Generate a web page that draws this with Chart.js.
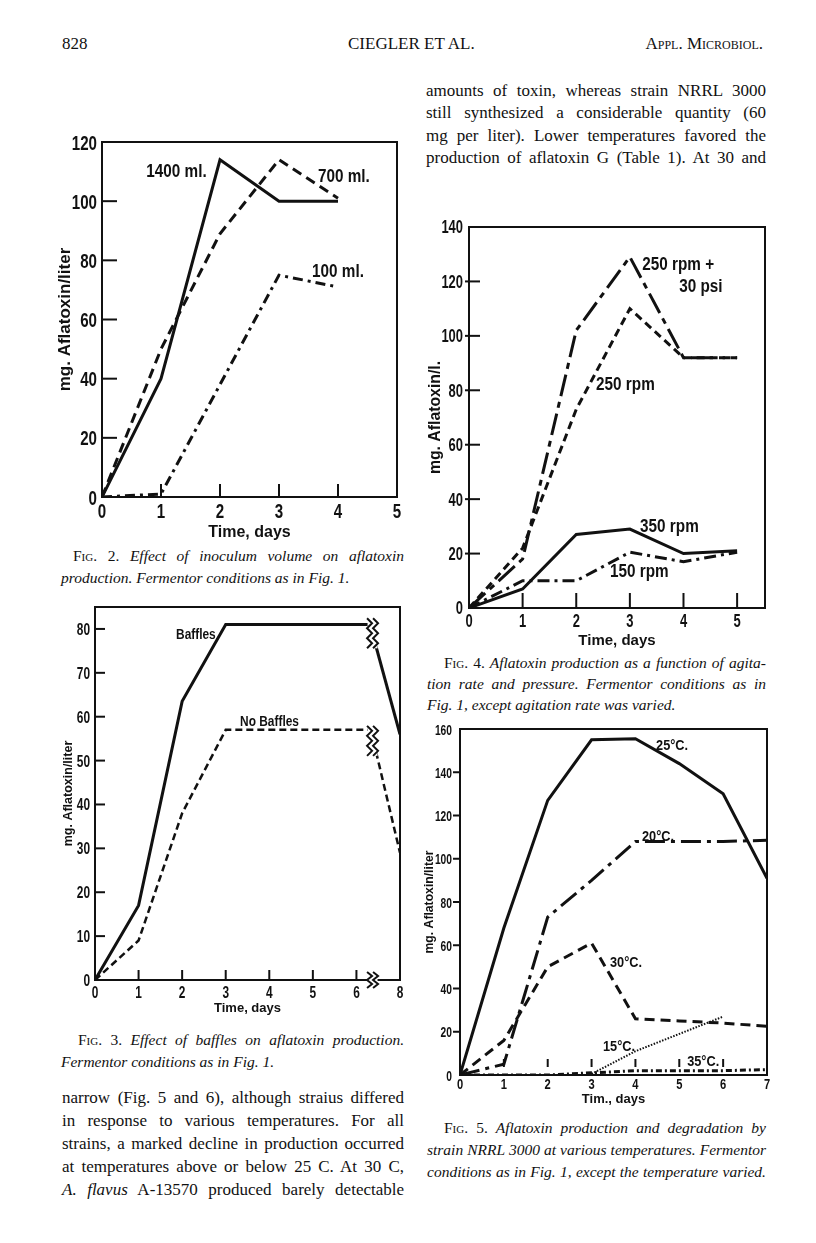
<!DOCTYPE html>
<html>
<head>
<meta charset="utf-8">
<script src="https://cdn.jsdelivr.net/npm/chart.js@4.4.1/dist/chart.umd.min.js"></script>
<style>
    body { margin: 0; background: #fff; width: 816px; height: 1243px; position: relative; overflow: hidden; }
    canvas { position: absolute; }
    .t { position: absolute; font-family: "Liberation Serif", "Times New Roman", serif; color: #111; white-space: nowrap; line-height: 20px; height: 20px; }
    .body { font-size: 17px; }
    .cap { font-size: 15.5px; font-style: italic; }
    .up { font-style: normal; }
    .sc { font-style: normal; font-variant: small-caps; }
</style>
</head>
<body>

<div class="t body" style="left:62px;top:34px">828</div>
<div class="t body" style="left:348px;top:34px">CIEGLER ET AL.</div>
<div class="t body" style="left:560px;top:34px;width:203px;text-align:right"><span class="sc">Appl. Microbiol.</span></div>

<div class="t body j" data-w="340" style="left:426px;top:81px">amounts of toxin, whereas strain NRRL 3000</div>
<div class="t body j" data-w="340" style="left:426px;top:103px">still synthesized a considerable quantity (60</div>
<div class="t body j" data-w="340" style="left:426px;top:126px">mg per liter). Lower temperatures favored the</div>
<div class="t body j" data-w="340" style="left:426px;top:148px">production of aflatoxin G (Table 1). At 30 and</div>

<div class="t cap j" data-w="331" style="left:73px;top:546px"><span class="sc">Fig.</span> <span class="up">2.</span> Effect of inoculum volume on aflatoxin</div>
<div class="t cap" style="left:61px;top:568px">production. Fermentor conditions as in Fig. 1.</div>

<div class="t cap j" data-w="322" style="left:444px;top:653px"><span class="sc">Fig.</span> <span class="up">4.</span> Aflatoxin production as a function of agita-</div>
<div class="t cap j" data-w="339" style="left:427px;top:674px">tion rate and pressure. Fermentor conditions as in</div>
<div class="t cap" style="left:427px;top:695px">Fig. 1, except agitation rate was varied.</div>

<div class="t cap j" data-w="326" style="left:78px;top:1030px"><span class="sc">Fig.</span> <span class="up">3.</span> Effect of baffles on aflatoxin production.</div>
<div class="t cap" style="left:61px;top:1052px">Fermentor conditions as in Fig. 1.</div>

<div class="t body j" data-w="342" style="left:62px;top:1088px">narrow (Fig. 5 and 6), although straius differed</div>
<div class="t body j" data-w="342" style="left:62px;top:1111px">in response to various temperatures. For all</div>
<div class="t body j" data-w="342" style="left:62px;top:1134px">strains, a marked decline in production occurred</div>
<div class="t body j" data-w="342" style="left:62px;top:1157px">at temperatures above or below 25 C. At 30 C,</div>
<div class="t body j" data-w="342" style="left:62px;top:1180px"><i>A. flavus</i> A-13570 produced barely detectable</div>

<div class="t cap j" data-w="322" style="left:444px;top:1118px"><span class="sc">Fig.</span> <span class="up">5.</span> Aflatoxin production and degradation by</div>
<div class="t cap j" data-w="339" style="left:427px;top:1140px">strain NRRL 3000 at various temperatures. Fermentor</div>
<div class="t cap j" data-w="339" style="left:427px;top:1162px">conditions as in Fig. 1, except the temperature varied.</div>

<canvas id="fig2"></canvas>
<canvas id="fig3"></canvas>
<canvas id="fig4"></canvas>
<canvas id="fig5"></canvas>

<script>
// Fig. 2 - inoculum volume
const fig2Days = [0, 1, 2, 3, 4]
const fig2Ml1400 = [0, 40, 114, 100, 100]
const fig2Ml700 = [0, 50, 89, 114, 101]
const fig2Ml100 = [0, 1, 38, 75, 71]

// Fig. 3 - baffles. x is the position on the broken axis (the last tick reads 8)
const fig3Pos = [0, 1, 2, 3, 6.3, 6.45, 7]
const fig3Baffles = [0, 17, 63.5, 81, 81, 76, 56]
const fig3NoBaffles = [0, 9, 38, 57, 57, 52, 29]
const fig3TickLabels = ['0', '1', '2', '3', '4', '5', '6', '8']
const fig3Break = 6.37

// Fig. 4 - agitation rate
const fig4Days = [0, 1, 2, 3, 4, 5]
const fig4Rpm250Psi = [0, 18, 102, 129, 92, 92]
const fig4Rpm250 = [0, 22, 73, 110, 92, 92]
const fig4Rpm350 = [0, 7, 27, 29, 20, 21]
const fig4Rpm150 = [0, 10, 10, 20.5, 17, 20.5]

// Fig. 5 - temperature
const fig5Days = [0, 1, 2, 3, 4, 5, 6, 7]
const fig5C25 = [0, 68, 127, 155, 155.5, 144, 130, 91]
const fig5C20 = [0, 5, 73, 90, 108, 108, 108, 108.5]
const fig5C30 = [0, 16, 50, 61, 26, 25, 24, 22.5]
const fig5C15 = [null, null, null, 0.5, 11, 19, 27, null]
const fig5C35 = [0, 0, 0, 1, 2, 2, 2, 2.5]

const ink = '#111'
const sans = '"Liberation Sans", Arial, sans-serif'

Chart.defaults.font.family = sans
Chart.defaults.font.weight = 'bold'
Chart.defaults.color = ink
Chart.defaults.animation = false

// justify the text lines of the page to their column width
document.querySelectorAll('.j').forEach(el => {
    let span = document.createElement('span')
    while (el.firstChild) span.appendChild(el.firstChild)
    el.appendChild(span)
    let natural = span.getBoundingClientRect().width
    let gaps = (span.textContent.match(/ /g) || []).length
    if (gaps) el.style.wordSpacing = ((+el.dataset.w - natural) / gaps) + 'px'
})

function points(xs, ys) {
    return xs.map((x, i) => ({ x: x, y: ys[i] }))
}

function lineSet(label, xs, ys, dash, width) {
    return {
        label: label,
        data: points(xs, ys),
        borderColor: ink,
        borderWidth: width || 3,
        borderDash: dash || [],
        borderCapStyle: 'butt',
        pointRadius: 0,
        tension: 0,
        fill: false,
        spanGaps: false
    }
}

// condensed bold text: the printed lettering is much narrower than any installed face
function narrowText(ctx, text, x, y, size, sx, align, base) {
    ctx.save()
    ctx.font = 'bold ' + size + 'px ' + sans
    ctx.textAlign = align
    ctx.textBaseline = base || 'alphabetic'
    ctx.translate(x, y)
    ctx.scale(sx, 1)
    ctx.fillText(text, 0, 0)
    ctx.restore()
}

function zigzag(ctx, x, yc, h) {
    let n = Math.max(4, Math.round(h / 5))
    ctx.fillStyle = '#fff'
    ctx.fillRect(x - 5, yc - h / 2, 10, h)
    ctx.lineWidth = 2
    ;[-3, 3].forEach(dx => {
        ctx.beginPath()
        for (let i = 0; i <= n; i++) {
            let y = yc - h / 2 + i * h / n
            let xx = x + dx + (i % 2 ? 2.5 : -2.5)
            if (i === 0) ctx.moveTo(xx, y)
            else ctx.lineTo(xx, y)
        }
        ctx.stroke()
    })
}

// frame, inner ticks, tick labels, text notes and axis breaks, like the printed figures
const paper = {
    id: 'paper',
    afterDatasetsDraw(chart, args, opts) {
        let ctx = chart.ctx
        let a = chart.chartArea
        let xs = chart.scales.x
        let ys = chart.scales.y
        ctx.save()
        ctx.strokeStyle = ink
        ctx.fillStyle = ink
        ctx.lineWidth = 2
        ctx.strokeRect(a.left, a.top, a.right - a.left, a.bottom - a.top)

        xs.ticks.forEach(t => {
            let px = xs.getPixelForValue(t.value)
            let label = opts.xLabels ? opts.xLabels[t.value] : String(t.value)
            narrowText(ctx, label, px, a.bottom + opts.xBase, opts.tickSize, 0.72, 'center')
            if (t.value <= xs.min || t.value >= xs.max) return
            ctx.beginPath()
            ctx.moveTo(px, a.bottom - opts.xTick[0])
            ctx.lineTo(px, a.bottom - opts.xTick[1])
            ctx.stroke()
        })
        ys.ticks.forEach(t => {
            let py = ys.getPixelForValue(t.value)
            narrowText(ctx, String(t.value), a.left - opts.yPad, py + opts.tickSize * 0.36,
                opts.tickSize, opts.ySx || 0.72, 'right')
            if (t.value <= ys.min || t.value >= ys.max) return
            ctx.beginPath()
            ctx.moveTo(a.left + opts.yTick[0], py)
            ctx.lineTo(a.left + opts.yTick[1], py)
            ctx.stroke()
        })

        ;(opts.breaks || []).forEach(b => {
            zigzag(ctx, xs.getPixelForValue(b[0]), ys.getPixelForValue(b[1]), b[2])
            ctx.strokeStyle = ink
        })

        ctx.fillStyle = ink
        ;(opts.notes || []).forEach(n => {
            narrowText(ctx, n[0], xs.getPixelForValue(n[1]), ys.getPixelForValue(n[2]),
                opts.noteSize, 0.85, 'left', 'middle')
        })
        ctx.restore()
    }
}

function makeChart(id, f, datasets, xOpt, yOpt, paperOpts) {
    let lhY = f.yTitleSize * 1.2
    let lhX = f.xTitleSize * 1.2
    let left = Math.round(f.yTitleX - lhY / 2)
    let bottom = Math.round(f.xTitleY + lhX / 2)
    let top = f.t - f.padT
    let right = f.r + f.padR
    let canvas = document.getElementById(id)
    canvas.width = right - left
    canvas.height = bottom - top
    canvas.style.left = left + 'px'
    canvas.style.top = top + 'px'
    let yW = f.l - left
    let xH = bottom - f.b

    return new Chart(canvas, {
        type: 'line',
        data: { datasets: datasets },
        options: {
            responsive: false,
            animation: false,
            layout: { padding: { left: 0, top: f.padT, right: f.padR, bottom: 0 } },
            plugins: {
                legend: { display: false },
                tooltip: { enabled: false },
                paper: paperOpts
            },
            scales: {
                x: {
                    type: 'linear',
                    min: xOpt.min,
                    max: xOpt.max,
                    grid: { display: false, drawTicks: false },
                    border: { display: false },
                    ticks: { display: false, stepSize: 1, includeBounds: false, autoSkip: false },
                    title: { display: true, text: xOpt.title, font: { size: f.xTitleSize }, padding: 0 },
                    afterFit: s => { s.height = xH }
                },
                y: {
                    min: 0,
                    max: yOpt.max,
                    grid: { display: false, drawTicks: false },
                    border: { display: false },
                    ticks: { display: false, stepSize: yOpt.step, includeBounds: false },
                    title: { display: true, text: yOpt.title, font: { size: f.yTitleSize }, padding: 0 },
                    afterFit: s => { s.width = yW }
                }
            }
        },
        plugins: [paper]
    })
}

makeChart('fig2',
    { l: 102, t: 142, r: 397, b: 497, yTitleX: 65, xTitleY: 532, yTitleSize: 17, xTitleSize: 16, padT: 15, padR: 15 },
    [
        lineSet('1400 ml.', fig2Days, fig2Ml1400, [], 3),
        lineSet('700 ml.', fig2Days, fig2Ml700, [10, 6], 3),
        lineSet('100 ml.', fig2Days, fig2Ml100, [10, 5, 3, 5], 3)
    ],
    { min: 0, max: 5, title: 'Time, days' },
    { max: 120, step: 20, title: 'mg. Aflatoxin/liter' },
    {
        tickSize: 21, xBase: 21, yPad: 5,
        xTick: [0, 13], yTick: [0, 15], noteSize: 18,
        notes: [['1400 ml.', 0.75, 110], ['700 ml.', 3.66, 108], ['100 ml.', 3.56, 76]]
    }
)

makeChart('fig3',
    { l: 95, t: 607, r: 400, b: 980, yTitleX: 68, xTitleY: 1008, yTitleSize: 12.5, xTitleSize: 13, padT: 10, padR: 10 },
    [
        Object.assign(lineSet('Baffles', fig3Pos, fig3Baffles, [], 3),
            { segment: { borderColor: c => (c.p0.parsed.x < fig3Break && c.p1.parsed.x > fig3Break) ? 'transparent' : ink } }),
        Object.assign(lineSet('No Baffles', fig3Pos, fig3NoBaffles, [7, 4], 2.5),
            { segment: { borderColor: c => (c.p0.parsed.x < fig3Break && c.p1.parsed.x > fig3Break) ? 'transparent' : ink } })
    ],
    { min: 0, max: 7, title: 'Time, days' },
    { max: 85, step: 10, title: 'mg. Aflatoxin/liter' },
    {
        tickSize: 16.5, xBase: 18, yPad: 5, xLabels: fig3TickLabels,
        xTick: [0, 10], yTick: [0, 10], noteSize: 14,
        notes: [['Baffles', 1.86, 78.6], ['No Baffles', 3.33, 58.8]],
        breaks: [[fig3Break, 79, 30], [fig3Break, 54.5, 30], [fig3Break, 0, 16]]
    }
)

makeChart('fig4',
    { l: 469, t: 227, r: 765, b: 608, yTitleX: 435, xTitleY: 641, yTitleSize: 15.8, xTitleSize: 15, padT: 14, padR: 12 },
    [
        lineSet('250 rpm + 30 psi', fig4Days, fig4Rpm250Psi, [22, 6, 6, 6], 3),
        lineSet('250 rpm', fig4Days, fig4Rpm250, [8, 5], 3),
        lineSet('350 rpm', fig4Days, fig4Rpm350, [], 3),
        lineSet('150 rpm', fig4Days, fig4Rpm150, [12, 5, 3, 5], 3)
    ],
    { min: 0, max: 5.52, title: 'Time, days' },
    { max: 140, step: 20, title: 'mg. Aflatoxin/l.' },
    {
        tickSize: 18, xBase: 19, yPad: 6,
        xTick: [0, 15], yTick: [-4, 11], noteSize: 18,
        notes: [['250 rpm +', 3.23, 126], ['30 psi', 3.92, 118], ['250 rpm', 2.37, 82],
                ['350 rpm', 3.19, 29.8], ['150 rpm', 2.63, 13.2]]
    }
)

makeChart('fig5',
    { l: 460, t: 729, r: 767, b: 1075, yTitleX: 429, xTitleY: 1099, yTitleSize: 12.2, xTitleSize: 13, padT: 10, padR: 10 },
    [
        lineSet('25°C.', fig5Days, fig5C25, [], 3),
        lineSet('20°C.', fig5Days, fig5C20, [20, 6, 4, 6], 3),
        lineSet('30°C.', fig5Days, fig5C30, [10, 6], 3),
        lineSet('15°C.', fig5Days, fig5C15, [1.5, 1.5], 2),
        lineSet('35°C.', fig5Days, fig5C35, [6, 3, 2, 3], 3)
    ],
    { min: 0, max: 7, title: 'Tim., days' },
    { max: 160, step: 20, title: 'mg. Aflatoxin/liter' },
    {
        tickSize: 15.5, xBase: 14, yPad: 8, ySx: 0.66,
        xTick: [8, 16], yTick: [-7, 0], noteSize: 15,
        notes: [['25°C.', 4.47, 152], ['20°C.', 4.15, 110], ['30°C.', 3.42, 51.8],
                ['15°C.', 3.26, 13], ['35°C.', 5.18, 6]]
    }
)
</script>
</body>
</html>
